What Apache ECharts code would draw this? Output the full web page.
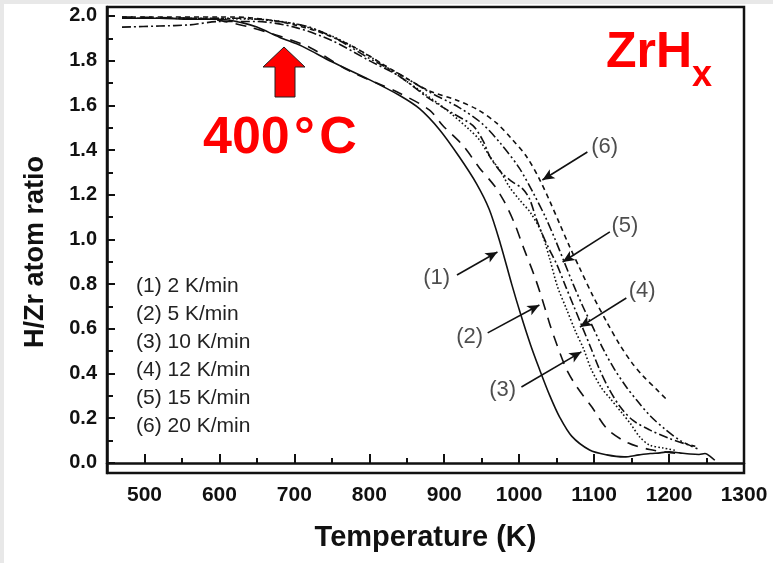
<!DOCTYPE html>
<html>
<head>
<meta charset="utf-8">
<script src="https://cdn.jsdelivr.net/npm/echarts@6/dist/echarts.min.js"></script>
<style>
html,body{margin:0;padding:0;background:#fff;}
#chart{width:773px;height:563px;}
</style>
</head>
<body>
<div id="chart"></div>
<script>
// ---------- data ----------
const seriesNames = ['(1) 2 K/min','(2) 5 K/min','(3) 10 K/min','(4) 12 K/min','(5) 15 K/min','(6) 20 K/min'];

const temp1 = [470,520,560,600,630,650,680,710,750,800,840,867,894,920,943,960,975,990,1002,1015,1027,1041,1054,1070,1094,1117,1140,1160,1175,1188,1200,1214,1228,1240,1248,1254,1261];
const ratio1 = [1.99,1.99,1.985,1.985,1.97,1.95,1.905,1.865,1.795,1.715,1.645,1.585,1.49,1.37,1.25,1.135,0.98,0.80,0.665,0.53,0.42,0.30,0.205,0.12,0.058,0.036,0.027,0.036,0.042,0.045,0.05,0.045,0.04,0.038,0.042,0.032,0.012];

const temp2 = [470,560,600,640,680,720,770,810,840,880,898,925,947,967,980,994,1005,1020,1030,1040,1047,1063,1077,1097,1118,1145,1174,1205,1218];
const ratio2 = [1.995,1.99,1.98,1.95,1.91,1.86,1.76,1.70,1.655,1.58,1.51,1.42,1.32,1.24,1.17,1.07,0.97,0.84,0.74,0.63,0.56,0.42,0.34,0.25,0.15,0.09,0.06,0.045,0.04];

const temp3 = [470,650,700,750,800,840,870,903,934,947,961,974,987,1001,1015,1030,1041,1051,1063,1075,1086,1096,1110,1121,1138,1148,1161,1174,1192,1210];
const ratio3 = [1.99,1.985,1.965,1.91,1.82,1.73,1.66,1.58,1.49,1.445,1.37,1.31,1.235,1.175,1.12,1.03,0.91,0.79,0.69,0.59,0.51,0.42,0.335,0.29,0.22,0.178,0.116,0.08,0.067,0.055];

const temp4 = [470,520,560,600,650,700,750,800,840,880,911,938,952,961,976,990,1005,1014,1022,1030,1041,1050,1062,1073,1084,1095,1107,1120,1135,1152,1174,1200,1222,1235];
const ratio4 = [1.95,1.955,1.96,1.975,1.975,1.95,1.89,1.80,1.73,1.63,1.565,1.51,1.44,1.37,1.30,1.26,1.225,1.18,1.10,1.03,0.95,0.89,0.79,0.70,0.61,0.52,0.42,0.33,0.25,0.19,0.148,0.11,0.085,0.075];

const temp5 = [470,620,680,720,760,800,840,880,920,950,975,1000,1020,1035,1048,1060,1072,1085,1098,1112,1127,1143,1157,1175,1195,1215,1230,1240];
const ratio5 = [1.99,1.99,1.975,1.95,1.89,1.81,1.74,1.66,1.59,1.52,1.43,1.32,1.20,1.10,1.0,0.90,0.80,0.70,0.61,0.51,0.42,0.34,0.28,0.21,0.15,0.10,0.075,0.06];

const temp6 = [470,620,660,700,740,780,820,850,880,915,945,970,990,1010,1027,1041,1054,1067,1081,1098,1117,1134,1150,1165,1183,1198];
const ratio6 = [1.995,1.995,1.985,1.96,1.92,1.86,1.78,1.72,1.665,1.625,1.58,1.52,1.45,1.37,1.27,1.17,1.07,0.97,0.87,0.75,0.63,0.53,0.45,0.39,0.33,0.28];

const xMajorTicks = [500,600,700,800,900,1000,1100,1200,1300];
const xMinorTicks = [550,650,750,850,950,1050,1150,1250];
const yMajorTicks = [0,0.2,0.4,0.6,0.8,1.0,1.2,1.4,1.6,1.8,2.0];
const yMinorTicks = [0.1,0.3,0.5,0.7,0.9,1.1,1.3,1.5,1.7,1.9];

// annotation callouts (data coordinates)
const calloutLabels = ['(1)','(2)','(3)','(4)','(5)','(6)'];
const calloutTextAt = [[890,0.828],[934,0.564],[978,0.327],[1164,0.770],[1141,1.060],[1114,1.414]];
const calloutFrom = [[917,0.841],[958,0.582],[1003,0.340],[1143,0.738],[1121,1.034],[1091,1.391]];
const calloutTo = [[971,0.944],[1027,0.707],[1083,0.497],[1081,0.608],[1058,0.899],[1031,1.266]];

// ---------- chart ----------
const temps = [temp1,temp2,temp3,temp4,temp5,temp6];
const ratios = [ratio1,ratio2,ratio3,ratio4,ratio5,ratio6];
const dashStyles = ['solid',[11,8],[1.6,2.2],[9,3,2,3],[9,3,2,3,2,3],[5,4]];
const FONT = '"Liberation Sans", Arial, sans-serif';

const chart = echarts.init(document.getElementById('chart'), null, {renderer:'canvas'});

const lineSeries = seriesNames.map((name,i)=>({
  name: name,
  type: 'line',
  showSymbol: false,
  symbol: 'none',
  smooth: 0.3,
  data: temps[i].map((t,j)=>[t, ratios[i][j]]),
  lineStyle: {color:'#111', width: 1.6, type: dashStyles[i], cap:'butt'},
  itemStyle: {color:'#111'},
  xAxisIndex: 0, yAxisIndex: 0,
  z: 3
}));

const calloutSeries = {
  name: 'callouts',
  type: 'scatter',
  symbol: 'circle',
  symbolSize: 2,
  data: calloutTextAt.map((p,i)=>({value:p, name:calloutLabels[i]})),
  label: {show:true, position:'inside', formatter: p=>p.name, color:'#222', fontSize:22, fontFamily:FONT},
  itemStyle:{color:'rgba(0,0,0,0)'},
  markLine: {
    silent: true,
    symbol: ['none','arrow'],
    symbolSize: [8,12],
    label: {show:false},
    lineStyle: {color:'#111', width:1.6, type:'solid'},
    data: calloutFrom.map((f,i)=>[{coord:f},{coord:calloutTo[i]}])
  },
  z: 4
};

const axisLabelBold = {fontFamily: FONT, fontWeight:'bold', fontSize:20, color:'#111'};

const option = {
  animation: false,
  backgroundColor: '#ffffff',
  grid: {left:107, right:29, top:7, bottom:90, show:true, borderColor:'#111', borderWidth:2.5, backgroundColor:'transparent'},
  legend: {
    data: seriesNames,
    orient: 'vertical',
    left: 126, top: 271,
    itemWidth: 0, itemHeight: 0, itemGap: 7,
    icon: 'rect',
    selectedMode: false,
    textStyle: {fontFamily: FONT, fontSize: 21, color:'#222'}
  },
  xAxis: [
    {
      type:'value', min:450, max:1300, position:'bottom',
      name:'Temperature (K)', nameLocation:'middle', nameGap:50,
      nameTextStyle:{fontFamily:FONT, fontWeight:'bold', fontSize:29, color:'#111'},
      axisLine:{show:true, lineStyle:{color:'#111', width:2.5}},
      axisTick:{show:true, inside:true, length:9, customValues:xMajorTicks, lineStyle:{color:'#111', width:2}},
      axisLabel:Object.assign({show:true, margin:12, customValues:xMajorTicks, formatter:v=>String(v)}, axisLabelBold, {fontSize:21}),
      splitLine:{show:false}
    },
    {
      type:'value', min:450, max:1300, position:'bottom',
      axisLine:{show:false},
      axisTick:{show:true, inside:true, length:5, customValues:xMinorTicks, lineStyle:{color:'#111', width:2}},
      axisLabel:{show:false},
      splitLine:{show:false}
    }
  ],
  yAxis: [
    {
      type:'value', min:-0.045, max:2.04, position:'left',
      name:'H/Zr atom ratio', nameLocation:'middle', nameGap:58, nameRotate:90,
      nameTextStyle:{fontFamily:FONT, fontWeight:'bold', fontSize:27, color:'#111', padding:[0,24,0,0]},
      axisLine:{show:true, lineStyle:{color:'#111', width:2.5}},
      axisTick:{show:true, inside:true, length:8, customValues:yMajorTicks, lineStyle:{color:'#111', width:2}},
      axisLabel:Object.assign({show:true, margin:10, customValues:yMajorTicks, formatter:v=>Number(v).toFixed(1)}, axisLabelBold),
      splitLine:{show:false}
    },
    {
      type:'value', min:-0.045, max:2.04, position:'left',
      axisLine:{show:false},
      axisTick:{show:true, inside:true, length:6, customValues:yMinorTicks, lineStyle:{color:'#111', width:2}},
      axisLabel:{show:false},
      splitLine:{show:false}
    }
  ],
  series: lineSeries.concat([calloutSeries]),
  graphic: [
    {type:'rect', silent:true, shape:{x:0,y:0,width:773,height:4}, style:{fill:'#e8e8e8'}},
    {type:'rect', silent:true, shape:{x:0,y:0,width:4,height:563}, style:{fill:'#e8e8e8'}},
    {type:'polygon', silent:true, z:100,
      shape:{points:[[284,47],[305,67],[295,67],[295,97],[275,97],[275,67],[263,67]]},
      style:{fill:'#ff0000', stroke:'#222', lineWidth:1}},
    {type:'text', silent:true, z:100, x:203, y:139,
      style:{text:'400\u200A\u00B0\u200AC', fill:'#ff0000', font:'bold 52px ' + FONT, verticalAlign:'middle', align:'left'}},
    {type:'text', silent:true, z:100, x:606, y:53,
      style:{text:'ZrH', fill:'#ff0000', font:'bold 50px ' + FONT, verticalAlign:'middle', align:'left'}},
    {type:'text', silent:true, z:100, x:692, y:76,
      style:{text:'x', fill:'#ff0000', font:'bold 36px ' + FONT, verticalAlign:'middle', align:'left'}}
  ]
};

chart.setOption(option);
</script>
</body>
</html>
